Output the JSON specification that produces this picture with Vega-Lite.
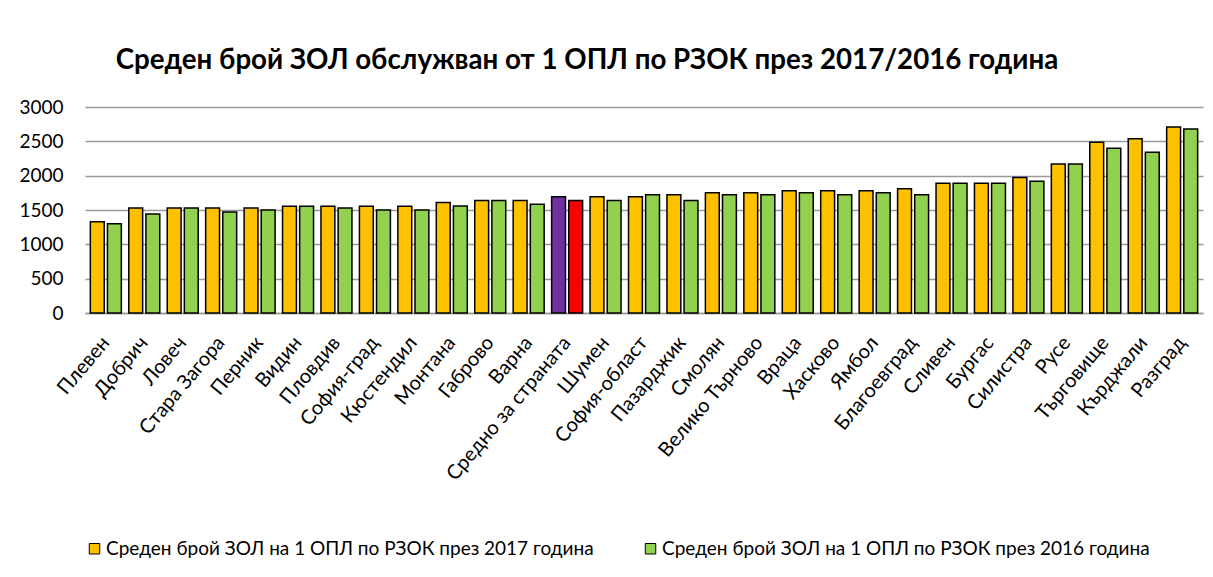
{
  "$schema": "https://vega.github.io/schema/vega-lite/v6.json",
  "autosize": {"type": "none"},
  "width": 1118,
  "height": 206,
  "padding": {"left": 85, "top": 107, "right": 10, "bottom": 264},
  "background": "white",
  "title": {
    "text": "Среден брой ЗОЛ обслужван от 1 ОПЛ по РЗОК през 2017/2016 година",
    "font": "Lato",
    "fontSize": 27.7,
    "fontWeight": "bold",
    "color": "black",
    "anchor": "middle",
    "frame": "group",
    "offset": 23,
    "dx": -57
  },
  "data": {
    "values": [
      {"region": "Плевен", "year": "2017", "value": 1330},
      {"region": "Плевен", "year": "2016", "value": 1300},
      {"region": "Добрич", "year": "2017", "value": 1528},
      {"region": "Добрич", "year": "2016", "value": 1441},
      {"region": "Ловеч", "year": "2017", "value": 1528},
      {"region": "Ловеч", "year": "2016", "value": 1528},
      {"region": "Стара Загора", "year": "2017", "value": 1528},
      {"region": "Стара Загора", "year": "2016", "value": 1470},
      {"region": "Перник", "year": "2017", "value": 1528},
      {"region": "Перник", "year": "2016", "value": 1499},
      {"region": "Видин", "year": "2017", "value": 1553},
      {"region": "Видин", "year": "2016", "value": 1553},
      {"region": "Пловдив", "year": "2017", "value": 1553},
      {"region": "Пловдив", "year": "2016", "value": 1528},
      {"region": "София-град", "year": "2017", "value": 1553},
      {"region": "София-град", "year": "2016", "value": 1499},
      {"region": "Кюстендил", "year": "2017", "value": 1553},
      {"region": "Кюстендил", "year": "2016", "value": 1499},
      {"region": "Монтана", "year": "2017", "value": 1611},
      {"region": "Монтана", "year": "2016", "value": 1557},
      {"region": "Габрово", "year": "2017", "value": 1640},
      {"region": "Габрово", "year": "2016", "value": 1640},
      {"region": "Варна", "year": "2017", "value": 1640},
      {"region": "Варна", "year": "2016", "value": 1582},
      {"region": "Средно за страната", "year": "2017", "value": 1692},
      {"region": "Средно за страната", "year": "2016", "value": 1640},
      {"region": "Шумен", "year": "2017", "value": 1692},
      {"region": "Шумен", "year": "2016", "value": 1640},
      {"region": "София-област", "year": "2017", "value": 1692},
      {"region": "София-област", "year": "2016", "value": 1721},
      {"region": "Пазарджик", "year": "2017", "value": 1721},
      {"region": "Пазарджик", "year": "2016", "value": 1640},
      {"region": "Смолян", "year": "2017", "value": 1750},
      {"region": "Смолян", "year": "2016", "value": 1721},
      {"region": "Велико Търново", "year": "2017", "value": 1750},
      {"region": "Велико Търново", "year": "2016", "value": 1721},
      {"region": "Враца", "year": "2017", "value": 1779},
      {"region": "Враца", "year": "2016", "value": 1750},
      {"region": "Хасково", "year": "2017", "value": 1779},
      {"region": "Хасково", "year": "2016", "value": 1721},
      {"region": "Ямбол", "year": "2017", "value": 1779},
      {"region": "Ямбол", "year": "2016", "value": 1750},
      {"region": "Благоевград", "year": "2017", "value": 1808},
      {"region": "Благоевград", "year": "2016", "value": 1721},
      {"region": "Сливен", "year": "2017", "value": 1891},
      {"region": "Сливен", "year": "2016", "value": 1891},
      {"region": "Бургас", "year": "2017", "value": 1891},
      {"region": "Бургас", "year": "2016", "value": 1891},
      {"region": "Силистра", "year": "2017", "value": 1974},
      {"region": "Силистра", "year": "2016", "value": 1920},
      {"region": "Русе", "year": "2017", "value": 2171},
      {"region": "Русе", "year": "2016", "value": 2171},
      {"region": "Търговище", "year": "2017", "value": 2486},
      {"region": "Търговище", "year": "2016", "value": 2399},
      {"region": "Кърджали", "year": "2017", "value": 2539},
      {"region": "Кърджали", "year": "2016", "value": 2341},
      {"region": "Разград", "year": "2017", "value": 2708},
      {"region": "Разград", "year": "2016", "value": 2679}
    ]
  },
  "mark": {"type": "bar", "stroke": "black", "strokeWidth": 1.5},
  "encoding": {
    "x": {
      "field": "region",
      "type": "nominal",
      "sort": null,
      "title": null,
      "scale": {"paddingInner": 0.194, "paddingOuter": 0.139},
      "axis": {
        "labelAngle": -50,
        "labelFont": "Lato",
        "labelFontSize": 20,
        "labelColor": "black",
        "labelPadding": 26,
        "labelLimit": 0,
        "ticks": false,
        "domainColor": "#9a9a9a",
        "domainWidth": 1.5,
        "labelOverlap": false
      }
    },
    "xOffset": {
      "field": "year",
      "type": "nominal",
      "scale": {"domain": ["2017", "2016"], "paddingInner": 0.19}
    },
    "y": {
      "field": "value",
      "type": "quantitative",
      "title": null,
      "scale": {"domain": [0, 3000]},
      "axis": {
        "values": [0, 500, 1000, 1500, 2000, 2500, 3000],
        "format": "d",
        "labelFont": "Lato",
        "labelFontSize": 19,
        "labelColor": "black",
        "ticks": false,
        "tickSize": 0,
        "domain": false,
        "labelPadding": 22,
        "gridColor": "#9a9a9a",
        "gridWidth": 1.5
      }
    },
    "color": {
      "field": "year",
      "type": "nominal",
      "scale": {"domain": ["2017", "2016"], "range": ["#FFC000", "#92D050"]},
      "condition": [
        {"test": "datum.region === 'Средно за страната' && datum.year === '2017'", "value": "#7030A0"},
        {"test": "datum.region === 'Средно за страната' && datum.year === '2016'", "value": "#FF0000"}
      ],
      "legend": {
        "title": null,
        "orient": "bottom",
        "direction": "horizontal",
        "labelExpr": "'Среден  брой ЗОЛ на 1 ОПЛ по РЗОК през  ' + datum.label + ' година'",
        "labelFont": "Lato",
        "labelFontSize": 19,
        "labelColor": "black",
        "labelLimit": 0,
        "symbolType": "square",
        "symbolSize": 110,
        "symbolStrokeColor": "black",
        "symbolStrokeWidth": 1,
        "columnPadding": 37,
        "labelOffset": 2,
        "offset": 55
      }
    }
  },
  "config": {
    "view": {"stroke": null}
  }
}
